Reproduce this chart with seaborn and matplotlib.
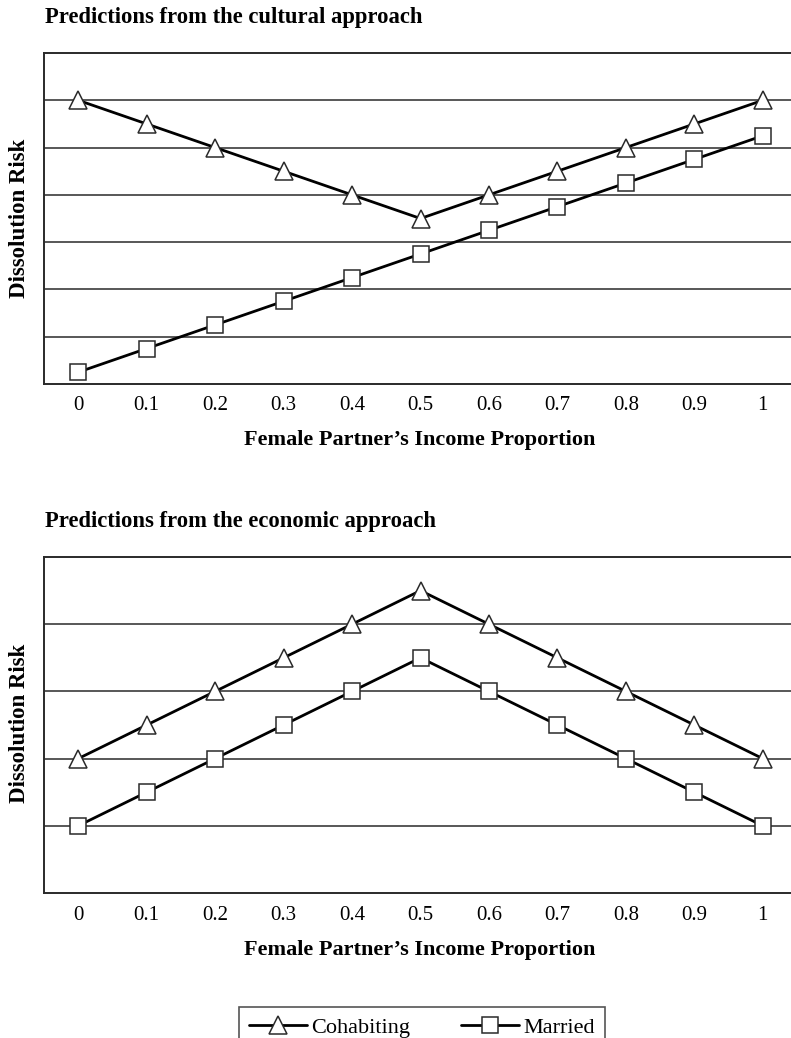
import matplotlib
matplotlib.use("Agg")
import matplotlib.pyplot as plt
import seaborn as sns
import pandas as pd
from matplotlib.lines import Line2D

# ---- data ----
income_prop = [0, 0.1, 0.2, 0.3, 0.4, 0.5, 0.6, 0.7, 0.8, 0.9, 1.0]
tick_labels = ["0", "0.1", "0.2", "0.3", "0.4", "0.5", "0.6", "0.7", "0.8", "0.9", "1"]

cultural_cohabiting = [6, 5.5, 5, 4.5, 4, 3.5, 4, 4.5, 5, 5.5, 6]
cultural_married = [0.25, 0.75, 1.25, 1.75, 2.25, 2.75, 3.25, 3.75, 4.25, 4.75, 5.25]

economic_cohabiting = [2, 2.5, 3, 3.5, 4, 4.5, 4, 3.5, 3, 2.5, 2]
economic_married = [1, 1.5, 2, 2.5, 3, 3.5, 3, 2.5, 2, 1.5, 1]

series_names = ["Cohabiting", "Married"]
titles = ["Predictions from the cultural approach", "Predictions from the economic approach"]
y_label = "Dissolution Risk"
x_label = "Female Partner\u2019s Income Proportion"

sns.set_theme(style="white")
plt.rcParams["font.family"] = ["Liberation Serif", "DejaVu Serif"]
plt.rcParams["text.color"] = "black"
plt.rcParams["xtick.color"] = "black"

W, H = 791, 1038
fig = plt.figure(figsize=(W / 100, H / 100), dpi=100)

def fx(px):
    return px / W

def fy(py):
    return 1 - py / H

ax_top = fig.add_axes([fx(44), fy(384), fx(797 - 44), (384 - 53) / H])
ax_bot = fig.add_axes([fx(44), fy(893), fx(797 - 44), (893 - 557) / H])

markers = {"Cohabiting": "^", "Married": "s"}
msizes = {"Cohabiting": 13, "Married": 11.5}
dark = "#2a2a2a"

def draw(ax, coh, mar, ylim, grid):
    df = pd.DataFrame({
        "x": income_prop * 2,
        "y": coh + mar,
        "series": ["Cohabiting"] * len(coh) + ["Married"] * len(mar),
    })
    for name in series_names:
        sub = df[df["series"] == name]
        sns.lineplot(data=sub, x="x", y="y", ax=ax, color="black", linewidth=2,
                     marker=markers[name], markersize=msizes[name],
                     markerfacecolor="white", markeredgecolor=dark,
                     markeredgewidth=1.1, legend=False, zorder=3, clip_on=False)
    ax.set_xlim(-0.05, 1.05)
    ax.set_ylim(*ylim)
    ax.set_yticks(grid)
    ax.set_yticklabels([])
    ax.yaxis.grid(True, color=dark, linewidth=1.1)
    ax.xaxis.grid(False)
    ax.set_axisbelow(True)
    ax.set_xticks(income_prop)
    ax.set_xticklabels(tick_labels, fontsize=15, color="black")
    ax.tick_params(axis="x", length=0, pad=9)
    ax.tick_params(axis="y", length=0)
    ax.set_xlabel("")
    ax.set_ylabel("")
    for s in ["left", "top", "bottom"]:
        ax.spines[s].set_visible(True)
        ax.spines[s].set_color(dark)
        ax.spines[s].set_linewidth(1.4)
    ax.spines["right"].set_visible(False)

draw(ax_top, cultural_cohabiting, cultural_married, (0, 7), [1, 2, 3, 4, 5, 6])
draw(ax_bot, economic_cohabiting, economic_married, (0, 5), [1, 2, 3, 4])

# titles
fig.text(fx(45), fy(18), titles[0], fontsize=16.3, fontweight="bold", ha="left", va="center")
fig.text(fx(45), fy(522), titles[1], fontsize=16.3, fontweight="bold", ha="left", va="center")

# x labels
fig.text(fx(420), fy(440), x_label, fontsize=16, fontweight="bold", ha="center", va="center")
fig.text(fx(420), fy(950), x_label, fontsize=16, fontweight="bold", ha="center", va="center")

# y labels
fig.text(fx(20), fy(218), y_label, fontsize=16.5, fontweight="bold", ha="center", va="center", rotation=90)
fig.text(fx(20), fy(723), y_label, fontsize=16.5, fontweight="bold", ha="center", va="center", rotation=90)

# legend
handles = [
    Line2D([], [], color="black", linewidth=2, marker=markers[n], markersize=msizes[n],
           markerfacecolor="white", markeredgecolor=dark, markeredgewidth=1.1)
    for n in series_names
]
leg = fig.legend(handles, series_names, loc="upper center",
                 bbox_to_anchor=(fx(422), fy(1007)), ncol=2, fontsize=16,
                 frameon=True, fancybox=False, edgecolor=dark, handlelength=2.6,
                 handletextpad=0.2, columnspacing=2.3, borderpad=0.45,
                 borderaxespad=0)
leg.get_frame().set_linewidth(1.2)

fig.savefig("out.png", dpi=100)
